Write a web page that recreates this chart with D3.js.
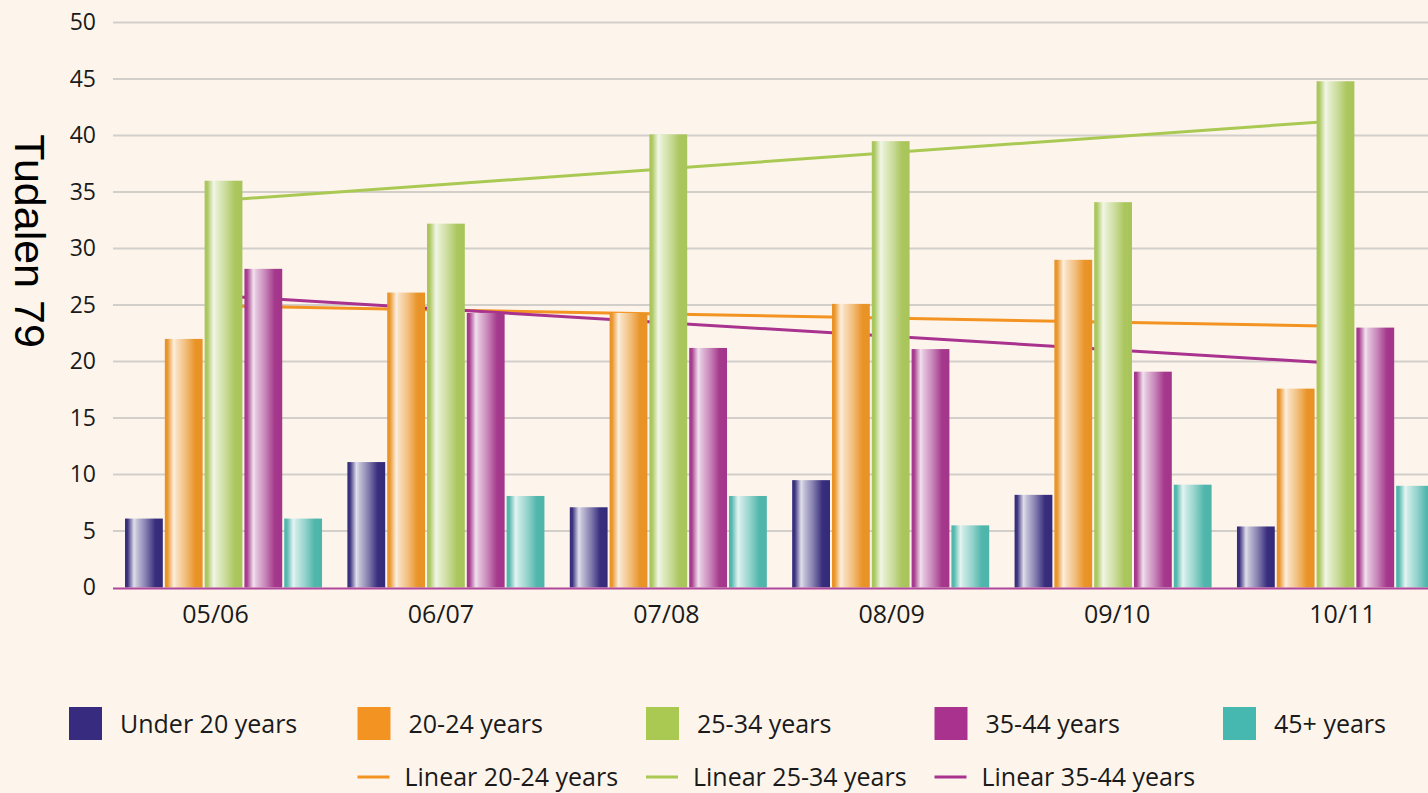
<!DOCTYPE html>
<html>
<head>
<meta charset="utf-8">
<script src="https://cdn.jsdelivr.net/npm/d3@7"></script>
<style>
  html, body { margin: 0; padding: 0; background: #fdf5ec; }
  #chart { width: 1428px; height: 793px; overflow: hidden; }
  text { font-family: 'Open Sans', 'Noto Sans', sans-serif; fill: #1a1a1a; }
</style>
</head>
<body>
<div id="chart"></div>
<script>
const periods = ['05/06', '06/07', '07/08', '08/09', '09/10', '10/11'];
const ageGroups = ['Under 20 years', '20-24 years', '25-34 years', '35-44 years', '45+ years'];
const under20 = [6.1, 11.1, 7.1, 9.5, 8.2, 5.4];
const age20to24 = [22, 26.1, 24.3, 25.1, 29, 17.6];
const age25to34 = [36, 32.2, 40.1, 39.5, 34.1, 44.8];
const age35to44 = [28.2, 24.3, 21.2, 21.1, 19.1, 23];
const age45plus = [6.1, 8.1, 8.1, 5.5, 9.1, 9.0];
const yTicks = [0, 5, 10, 15, 20, 25, 30, 35, 40, 45, 50];
const trendGroups = ['20-24 years', '25-34 years', '35-44 years'];

const seriesValues = [under20, age20to24, age25to34, age35to44, age45plus];
const barColors = ['#342a7a', '#e99224', '#a8c55a', '#a3358a', '#4db5aa'];
const swatchColors = ['#372b80', '#f39322', '#a9c953', '#a8328d', '#47b8b0'];
const color = d3.scaleOrdinal().domain(ageGroups).range(barColors);
const swatch = d3.scaleOrdinal().domain(ageGroups).range(swatchColors);

const w = 1428;
const h = 793;
const m = { l: 113, b: 587.5, t: 22.5 };

const svg = d3.select('#chart').append('svg').attr('width', w).attr('height', h);
svg.append('rect').attr('width', w).attr('height', h).attr('fill', '#fdf5ec');

// horizontal bar shading
const defs = svg.append('defs');
ageGroups.forEach((g, i) => {
  const base = d3.color(color(g));
  const mix = (t) => d3.interpolateRgb(base, '#ffffff')(t);
  const grad = defs.append('linearGradient').attr('id', `grad${i}`).attr('x1', '0%').attr('x2', '100%');
  [
    [0, mix(0)],
    [0.07, mix(0.05)],
    [0.24, mix(0.85)],
    [0.32, mix(0.7)],
    [0.55, mix(0.4)],
    [0.8, mix(0.02)],
    [1, mix(0)],
  ].forEach(([o, c]) => grad.append('stop').attr('offset', o).attr('stop-color', c));
});

const y = d3.scaleLinear().domain([0, 50]).range([m.b, m.t]);
const x0 = d3.scaleBand().domain(periods).range([125, 1434]).paddingInner(0.114).paddingOuter(0);
const x1 = d3.scaleBand().domain(ageGroups).range([0, x0.bandwidth()]).paddingInner(0.05).paddingOuter(0);
const xLabel = d3.scalePoint().domain(periods).range([215, 1342]);

// gridlines
svg
  .append('g')
  .selectAll('line')
  .data(yTicks.filter((d) => d > 0))
  .join('line')
  .attr('x1', m.l)
  .attr('x2', w)
  .attr('y1', (d) => y(d))
  .attr('y2', (d) => y(d))
  .attr('stroke', '#d2cfca')
  .attr('stroke-width', 2);

// y axis labels
const yAxis = svg
  .append('g')
  .attr('transform', `translate(${m.l},0)`)
  .call(d3.axisLeft(y).tickValues(yTicks).tickSize(0).tickPadding(17));
yAxis.select('.domain').remove();
yAxis.selectAll('text').attr('font-size', 23).attr('font-family', "'Open Sans', sans-serif").attr('fill', '#1a1a1a');

svg
  .append('text')
  .attr('transform', 'translate(15,241) rotate(90)')
  .attr('text-anchor', 'middle')
  .attr('font-size', 43)
  .style('font-family', "'Liberation Sans', Arial, sans-serif")
  .style('fill', '#000')
  .text('Tudalen 79');

// linear trend lines (least squares over period index)
function fit(vals) {
  const xs = vals.map((_, i) => i);
  const mx = d3.mean(xs);
  const my = d3.mean(vals);
  const slope = d3.sum(xs, (xi, i) => (xi - mx) * (vals[i] - my)) / d3.sum(xs, (xi) => (xi - mx) ** 2);
  return (i) => my + slope * (i - mx);
}

const trendG = svg.append('g');
trendGroups.forEach((g) => {
  const vals = seriesValues[ageGroups.indexOf(g)];
  const f = fit(vals);
  const ends = [0, periods.length - 1];
  trendG
    .append('path')
    .datum(ends)
    .attr('fill', 'none')
    .attr('stroke', swatch(g))
    .attr('stroke-width', 3)
    .attr(
      'd',
      d3
        .line()
        .x((i) => x0(periods[i]) + x0.bandwidth() / 2)
        .y((i) => y(f(i)))
    );
});

// bars
const barData = periods.flatMap((p, pi) => ageGroups.map((g, gi) => ({ p, g, gi, v: seriesValues[gi][pi] })));
svg
  .append('g')
  .selectAll('rect')
  .data(barData)
  .join('rect')
  .attr('x', (d) => x0(d.p) + x1(d.g))
  .attr('y', (d) => y(d.v))
  .attr('width', x1.bandwidth())
  .attr('height', (d) => y(0) - y(d.v))
  .attr('fill', (d) => `url(#grad${d.gi})`);

// baseline
svg
  .append('line')
  .attr('x1', m.l)
  .attr('x2', w)
  .attr('y1', y(0) + 1)
  .attr('y2', y(0) + 1)
  .attr('stroke', '#b0479b')
  .attr('stroke-width', 2);

// x labels
const xAxis = svg
  .append('g')
  .attr('transform', `translate(0,${y(0)})`)
  .call(d3.axisBottom(xLabel).tickSize(0).tickPadding(18));
xAxis.select('.domain').remove();
xAxis.selectAll('text').attr('font-size', 25).attr('font-family', "'Open Sans', sans-serif").attr('fill', '#1a1a1a');

// legend
const legX = d3.scalePoint().domain(d3.range(5)).range([69, 1223]);
const leg1 = svg
  .append('g')
  .selectAll('g')
  .data(ageGroups)
  .join('g')
  .attr('transform', (d, i) => `translate(${legX(i)},707)`);
leg1.append('rect').attr('width', 33).attr('height', 33).attr('fill', (d) => swatch(d));
leg1
  .append('text')
  .attr('x', 51)
  .attr('y', 17)
  .attr('dy', '0.35em')
  .attr('font-size', 25)
  .text((d) => d);

const leg2 = svg
  .append('g')
  .selectAll('g')
  .data(trendGroups)
  .join('g')
  .attr('transform', (d, i) => `translate(${legX(i + 1)},777)`);
leg2
  .append('line')
  .attr('x1', 0)
  .attr('x2', 32)
  .attr('stroke', (d) => swatch(d))
  .attr('stroke-width', 3);
leg2
  .append('text')
  .attr('x', 47)
  .attr('y', 0)
  .attr('dy', '0.35em')
  .attr('font-size', 25)
  .text((d) => `Linear ${d}`);
</script>
</body>
</html>
